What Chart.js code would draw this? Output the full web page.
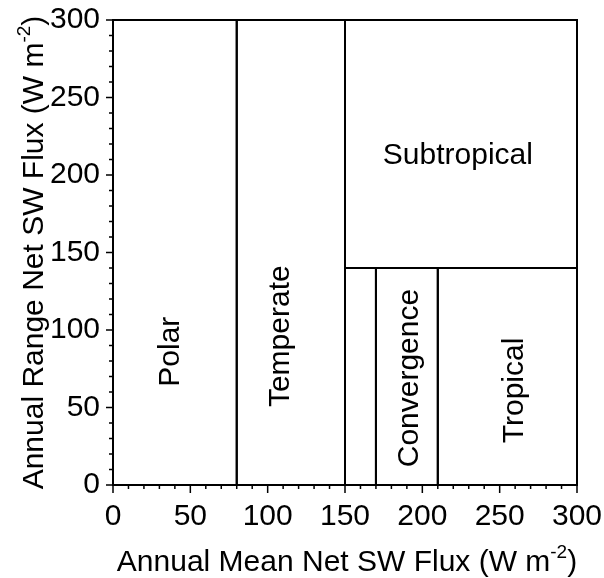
<!DOCTYPE html>
<html>
<head>
<meta charset="utf-8">
<title>SW flux regimes</title>
<script src="https://cdn.jsdelivr.net/npm/chart.js@4.4.1/dist/chart.umd.min.js"></script>
<style>
  html, body { margin: 0; padding: 0; background: #fff; }
  #wrap { width: 604px; height: 578px; position: relative; }
</style>
</head>
<body>
<div id="wrap"><canvas id="regimeChart"></canvas></div>
<script>
// regime boxes in (annual mean, annual range) flux space, W m-2
const regionNames = ['Polar', 'Temperate', 'Subtropical', '', 'Convergence', 'Tropical'];
const meanFrom  = [0,   80,  150, 150, 170, 210];
const meanTo    = [80,  150, 300, 170, 210, 300];
const rangeFrom = [0,   0,   140, 0,   0,   0];
const rangeTo   = [300, 300, 300, 140, 140, 140];

// where each name sits, in data units
const labelMean  = [36, 107, 223, null, 190, 258];
const labelRange = [86, 96,  214, null, 69,  61];
const labelUpright = [false, false, true, false, false, false];

const axisMin = 0;
const axisMax = 300;
const majorStep = 50;
const minorStep = 10;

const xTitle = ['Annual Mean Net SW Flux (W m', '-2', ')'];
const yTitle = ['Annual Range Net SW Flux (W m', '-2', ')'];

const FONT = "'Liberation Sans', Arial, Helvetica, sans-serif";

function boxPoints(i) {
  return [
    { x: meanFrom[i], y: rangeFrom[i] },
    { x: meanTo[i],   y: rangeFrom[i] },
    { x: meanTo[i],   y: rangeTo[i] },
    { x: meanFrom[i], y: rangeTo[i] },
    { x: meanFrom[i], y: rangeFrom[i] }
  ];
}

const datasets = regionNames.map((name, i) => ({
  label: name || 'gap',
  data: boxPoints(i),
  showLine: true,
  borderColor: '#000',
  borderWidth: 2,
  pointRadius: 0,
  fill: false,
  tension: 0,
  clip: false
}));

// minor + major tick marks outside the axes
const tickMarks = {
  id: 'tickMarks',
  afterDraw(chart) {
    const { ctx, chartArea } = chart;
    const xs = chart.scales.x, ys = chart.scales.y;
    ctx.save();
    ctx.strokeStyle = '#000';
    ctx.lineWidth = 1.5;
    ctx.beginPath();
    xs.ticks.forEach(t => {
      const px = xs.getPixelForValue(t.value);
      const len = t.value % majorStep === 0 ? 8 : 4;
      ctx.moveTo(px, chartArea.bottom);
      ctx.lineTo(px, chartArea.bottom + len);
    });
    ys.ticks.forEach(t => {
      const py = ys.getPixelForValue(t.value);
      const len = t.value % majorStep === 0 ? 7 : 4;
      ctx.moveTo(chartArea.left, py);
      ctx.lineTo(chartArea.left - len, py);
    });
    ctx.stroke();
    ctx.restore();
  }
};

// region names
const regionLabels = {
  id: 'regionLabels',
  afterDatasetsDraw(chart) {
    const { ctx } = chart;
    const xs = chart.scales.x, ys = chart.scales.y;
    const size = 30;
    ctx.save();
    ctx.fillStyle = '#000';
    ctx.font = `${size}px ${FONT}`;
    ctx.textAlign = 'center';
    ctx.textBaseline = 'alphabetic';
    regionNames.forEach((name, i) => {
      if (!name || labelMean[i] == null) return;
      const px = xs.getPixelForValue(labelMean[i]);
      const py = ys.getPixelForValue(labelRange[i]);
      const half = size * 0.36;
      ctx.save();
      ctx.translate(px, py);
      if (!labelUpright[i]) ctx.rotate(-Math.PI / 2);
      ctx.fillText(name, 0, half);
      ctx.restore();
    });
    ctx.restore();
  }
};

// axis titles with a raised exponent
function drawTitle(ctx, parts, size) {
  const small = Math.round(size * 0.62);
  ctx.font = `${size}px ${FONT}`;
  const w1 = ctx.measureText(parts[0]).width;
  const w3 = ctx.measureText(parts[2]).width;
  ctx.font = `${small}px ${FONT}`;
  const w2 = ctx.measureText(parts[1]).width;
  let x = -(w1 + w2 + w3) / 2;
  ctx.textAlign = 'left';
  ctx.textBaseline = 'alphabetic';
  ctx.font = `${size}px ${FONT}`;
  ctx.fillText(parts[0], x, 0);
  x += w1;
  ctx.font = `${small}px ${FONT}`;
  ctx.fillText(parts[1], x, -size * 0.42);
  x += w2;
  ctx.font = `${size}px ${FONT}`;
  ctx.fillText(parts[2], x, 0);
}

const axisTitles = {
  id: 'axisTitles',
  afterDraw(chart) {
    const { ctx, chartArea } = chart;
    const size = 30;
    ctx.save();
    ctx.fillStyle = '#000';
    ctx.save();
    ctx.translate((chartArea.left + chartArea.right) / 2 + 2, 571);
    drawTitle(ctx, xTitle, size);
    ctx.restore();
    ctx.save();
    ctx.translate(43, (chartArea.top + chartArea.bottom) / 2);
    ctx.rotate(-Math.PI / 2);
    drawTitle(ctx, yTitle, size);
    ctx.restore();
    ctx.restore();
  }
};

function axisOptions(isX) {
  return {
    type: 'linear',
    min: axisMin,
    max: axisMax,
    grid: { display: false, drawTicks: true, tickLength: isX ? 8 : 7 },
    border: { display: true, color: '#000', width: 2 },
    ticks: {
      stepSize: minorStep,
      autoSkip: false,
      maxRotation: 0,
      padding: isX ? 6 : 6,
      color: '#000',
      font: { family: FONT, size: 30 },
      callback: v => (v % majorStep === 0 ? String(v) : '')
    },
    title: { display: false },
    afterFit(scale) {
      if (isX) scale.height = 93;
      else scale.width = 113;
      // keep the plot frame where the outer padding puts it
      scale.paddingLeft = 0;
      scale.paddingRight = 0;
      scale.paddingTop = 0;
      scale.paddingBottom = 0;
    }
  };
}

new Chart(document.getElementById('regimeChart'), {
  type: 'scatter',
  data: { datasets },
  options: {
    responsive: true,
    maintainAspectRatio: false,
    animation: false,
    layout: { padding: { left: 0, right: 27, top: 20, bottom: 0 } },
    plugins: {
      legend: { display: false },
      tooltip: { enabled: false }
    },
    scales: {
      x: axisOptions(true),
      y: axisOptions(false)
    }
  },
  plugins: [tickMarks, regionLabels, axisTitles]
});
</script>
</body>
</html>
